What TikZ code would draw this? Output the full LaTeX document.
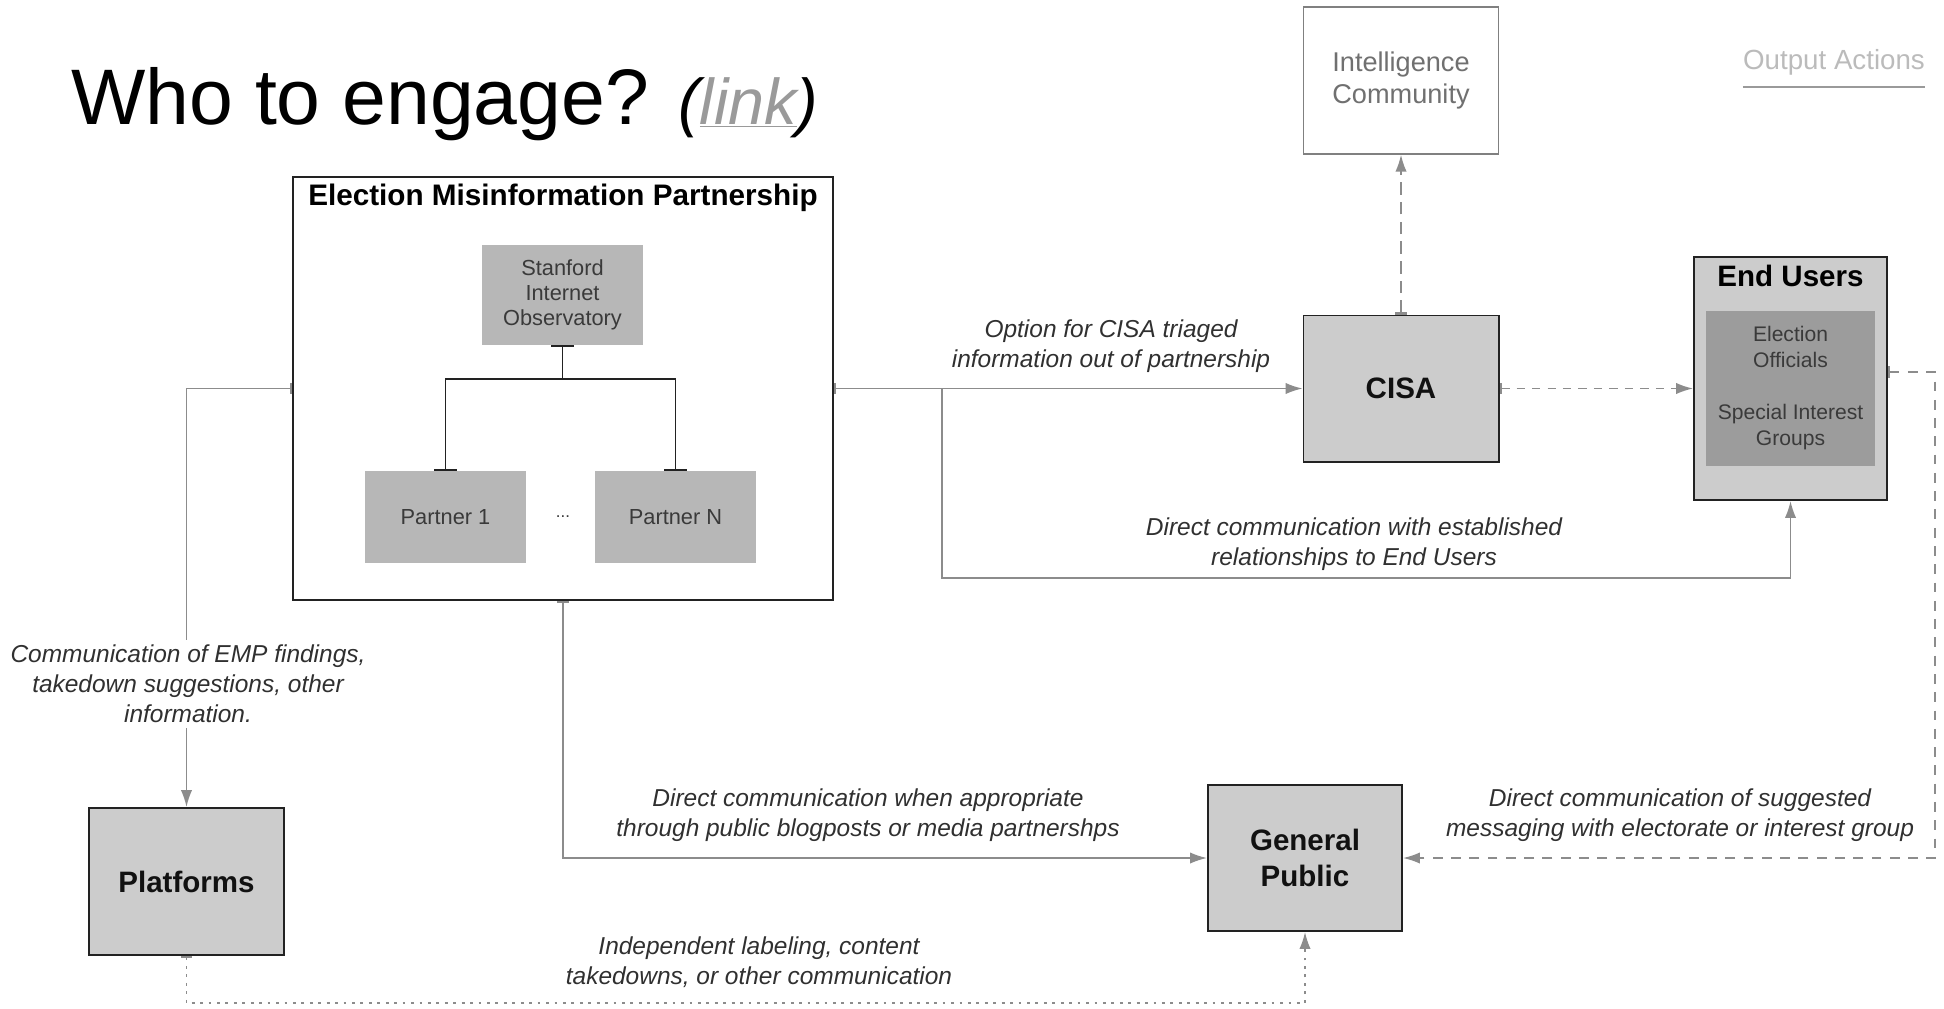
\documentclass[tikz,border=0pt]{standalone}
\usepackage{fontspec}
\setmainfont{Liberation Sans}
\usetikzlibrary{arrows.meta,positioning}
\definecolor{BoxFill}{HTML}{CCCCCC}
\definecolor{BoxLine}{HTML}{222222}
\definecolor{BoxText}{HTML}{111111}
\definecolor{MemberFill}{HTML}{B7B7B7}
\definecolor{MemberText}{HTML}{3A3A3A}
\definecolor{InnerFill}{HTML}{9C9C9C}
\definecolor{GhostLine}{HTML}{808080}
\definecolor{GhostText}{HTML}{707070}
\definecolor{NoteText}{HTML}{303030}
\definecolor{FlowLine}{HTML}{8C8C8C}
\definecolor{LinkGray}{HTML}{9A9A9A}
\definecolor{FaintText}{HTML}{BBBBBB}
\tikzset{
    mainbox/.style={rectangle, draw=BoxLine, line width=1.4pt, fill=BoxFill, align=center, text=BoxText, font=\fontsize{21}{25}\selectfont\bfseries},
    groupbox/.style={rectangle, draw=BoxLine, line width=1.2pt, fill=white},
    member/.style={rectangle, fill=MemberFill, align=center, text=MemberText, font=\fontsize{15.5}{18}\selectfont},
    ghostbox/.style={rectangle, draw=GhostLine, line width=1pt, fill=white, align=center, text=GhostText, font=\fontsize{19.3}{22.8}\selectfont},
    note/.style={align=center, text=NoteText, font=\fontsize{17.4}{21.3}\selectfont\itshape},
    flow/.style={draw=FlowLine, line width=1.1pt, -{Latex[length=12pt,width=8pt]}},
    tailed/.style={{Bar[width=8pt,line width=1.5pt]}-{Latex[length=12pt,width=8pt]}},
    tree/.style={draw=BoxLine, line width=1.4pt, {Bar[width=16pt]}-{Bar[width=16pt]}}
}
\begin{document}
\begin{tikzpicture}[x=0.025cm, y=-0.025cm]
\useasboundingbox (0,0) rectangle (1944,1008);

% Title and legend
\node (title) [anchor=base west, inner sep=0pt, font=\fontsize{56}{60}\selectfont] at (71,124) {Who to engage? {\fontsize{46}{50}\selectfont\itshape(\textcolor{LinkGray}{\underline{link}})}};
\node (outact) [inner sep=0pt, text=FaintText, font=\fontsize{19.7}{23}\selectfont] at (1834,62) {Output Actions};
\draw [LinkGray, line width=1.5pt] ([yshift=-0.45cm]outact.base west) -- ([yshift=-0.45cm]outact.base east);

% Partnership
\node (emp) [groupbox, minimum width=13.5cm, minimum height=10.575cm] at (563,388.5) {};
\node (emptitle) [font=\fontsize{21.1}{25}\selectfont\bfseries] at (563,198) {Election Misinformation Partnership};
\node (sio) [member, minimum width=4.025cm, minimum height=2.5cm] at (562.5,295) {Stanford\\Internet\\Observatory};
\node (p1) [member, minimum width=4.025cm, minimum height=2.3cm] at (445.5,517) {Partner 1};
\node (pn) [member, minimum width=4.025cm, minimum height=2.3cm] at (675.5,517) {Partner N};
\node (dots) [text=MemberText, font=\fontsize{12}{14}\selectfont] at (563,517) {...};

% Tree inside partnership
\draw [tree] (sio.south) -- ++(0,34) -| (p1.north);
\draw [tree] (sio.south) -- ++(0,34) -| (pn.north);

% Outside parties
\node (cisa) [mainbox, minimum width=4.875cm, minimum height=3.65cm] at (1401,388.5) {CISA};
\node (intel) [ghostbox, minimum width=4.875cm, minimum height=3.675cm] at (1401,80.5) {Intelligence\\Community};
\node (endusers) [mainbox, minimum width=4.825cm, minimum height=6.075cm] at (1790.5,378.5) {};
\node (eutitle) [font=\fontsize{21}{25}\selectfont\bfseries] at (1790.5,276) {End Users};
\node (euinner) [rectangle, fill=InnerFill, align=center, text=MemberText, font=\fontsize{15}{18.5}\selectfont, minimum width=4.225cm, minimum height=3.875cm] at (1790.5,388.5) {Election\\Officials\\[0.65cm]Special Interest\\Groups};
\node (platforms) [mainbox, minimum width=4.875cm, minimum height=3.675cm] at (186.5,881.5) {Platforms};
\node (gp) [mainbox, minimum width=4.85cm, minimum height=3.65cm] at (1305,858) {General\\Public};

% Connections
\coordinate (split) at (942,388.5);
\draw [flow, tailed] (emp.west) -| (platforms.north);
\draw [flow, tailed] (emp.south) |- (gp.west);
\draw [flow, tailed] (emp) -- (cisa);
\draw [flow] (split) -- ++(0,189.5) -| (endusers.south);
\draw [flow, tailed, dash pattern=on 6pt off 5pt] (cisa.east) -- (cisa.east -| endusers.west);
\draw [flow, tailed, dash pattern=on 9pt off 5pt] (cisa) -- (intel);
\draw [flow, tailed, dash pattern=on 7pt off 6pt] ([yshift=0.16cm]endusers.east) -- ++(47,0) |- (gp.east);
\draw [flow, tailed, dash pattern=on 2pt off 4pt] (platforms.south) -- ++(0,47) -| (gp.south);

% Labels
\node (platnote) [note, fill=white] at (188,684) {Communication of EMP findings,\\takedown suggestions, other\\information.};
\node (cisanote) [note] at (1111,346) {Option for CISA triaged\\information out of partnership};
\node (eunote) [note] at (1354,544) {Direct communication with established\\relationships to End Users};
\node (gpnote) [note] at (868,815) {Direct communication when appropriate\\through public blogposts or media partnershps};
\node (msgnote) [note] at (1680,815) {Direct communication of suggested\\messaging with electorate or interest group};
\node (indnote) [note] at (759,962) {Independent labeling, content\\takedowns, or other communication};

\end{tikzpicture}
\end{document}
